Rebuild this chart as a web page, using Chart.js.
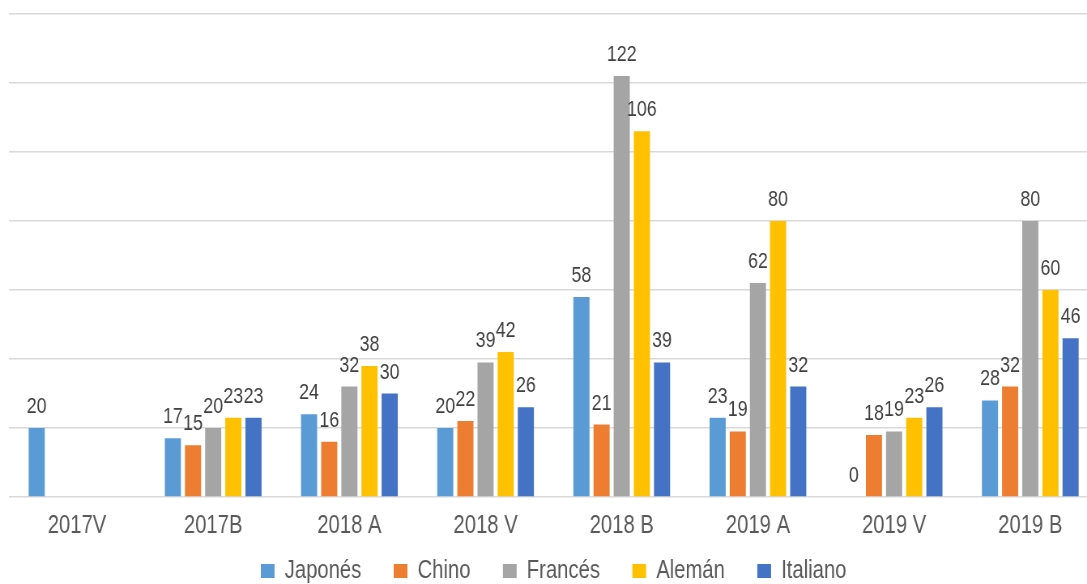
<!DOCTYPE html>
<html>
<head>
<meta charset="utf-8">
<script src="https://cdn.jsdelivr.net/npm/chart.js@4.4.1/dist/chart.umd.min.js"></script>
<style>
  html, body { margin: 0; padding: 0; background: #ffffff; overflow: hidden; }
  #wrap { width: 1087px; height: 584px; overflow: hidden; position: relative; }
  /* reference text is a narrow (condensed) sans; emulate by compressing horizontally */
  #c { position: absolute; left: 0; top: 0; transform: scaleX(0.81); transform-origin: 0 0; }
</style>
</head>
<body>
<div id="wrap"><canvas id="c" width="1360" height="584"></canvas></div>
<script>
const categories = ['2017V', '2017B', '2018 A', '2018 V', '2018 B', '2019 A', '2019 V', '2019 B'];
const japones  = [20, 17, 24, 20, 58, 23, 0, 28];
const chino    = [null, 15, 16, 22, 21, 19, 18, 32];
const frances  = [null, 20, 32, 39, 122, 62, 19, 80];
const aleman   = [null, 23, 38, 42, 106, 80, 23, 60];
const italiano = [null, 23, 30, 26, 39, 32, 26, 46];
const seriesNames = ['Japonés', 'Chino', 'Francés', 'Alemán', 'Italiano'];
const seriesColors = ['#5B9BD5', '#ED7D31', '#A5A5A5', '#FFC000', '#4472C4'];
const seriesData = [japones, chino, frances, aleman, italiano];

const FONT = '"Liberation Sans", Arial, sans-serif';
Chart.defaults.font.family = FONT;

const valueLabels = {
  id: 'valueLabels',
  afterDatasetsDraw(chart) {
    const ctx = chart.ctx;
    ctx.save();
    ctx.font = '22px ' + FONT;
    ctx.fillStyle = '#404040';
    ctx.textAlign = 'center';
    ctx.textBaseline = 'alphabetic';
    chart.data.datasets.forEach((ds, i) => {
      const meta = chart.getDatasetMeta(i);
      meta.data.forEach((bar, j) => {
        const v = ds.data[j];
        if (v === null || v === undefined) return;
        ctx.fillText(String(v), bar.x, bar.y - 15);
      });
    });
    ctx.restore();
  }
};

// the x axis is given a short layout box so the legend can sit close to the plot;
// widen its drawing (clip) box afterwards so the category labels are not cut off
const unclipXLabels = {
  id: 'unclipXLabels',
  afterLayout(chart) {
    const x = chart.scales.x;
    if (x) { x.bottom = x.top + 45; }
  }
};

new Chart(document.getElementById('c'), {
  type: 'bar',
  data: {
    labels: categories,
    datasets: seriesNames.map((name, i) => ({
      label: name,
      data: seriesData[i],
      backgroundColor: seriesColors[i],
      borderWidth: 0,
      categoryPercentage: 0.74,
      barPercentage: 0.8
    }))
  },
  options: {
    responsive: false,
    animation: false,
    layout: { padding: { left: 11, right: 4, top: 14, bottom: 0 } },
    scales: {
      x: {
        grid: { display: true, color: 'rgba(0,0,0,0)', drawTicks: true, tickLength: 23 },
        border: { display: false },
        ticks: { color: '#595959', font: { size: 25, lineHeight: 0.5 }, padding: 0, maxRotation: 0 },
        afterFit: (scale) => { scale.height = 21.5; }
      },
      y: {
        min: 0, max: 140,
        grid: { color: '#d9d9d9', lineWidth: 1.5, drawTicks: false },
        border: { display: false },
        ticks: { display: false, stepSize: 20 }
      }
    },
    plugins: {
      legend: {
        position: 'bottom',
        maxHeight: 65.5,
        labels: { boxWidth: 17, boxHeight: 14, color: '#595959', font: { size: 25 }, padding: 40 }
      },
      tooltip: { enabled: false }
    }
  },
  plugins: [valueLabels, unclipXLabels]
});
</script>
</body>
</html>
